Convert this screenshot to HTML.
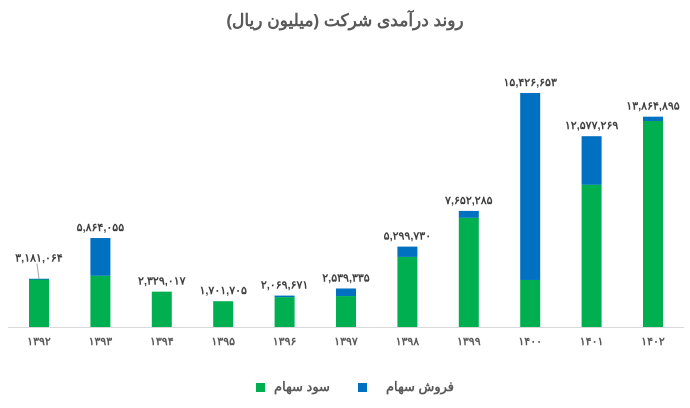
<!DOCTYPE html>
<html><head><meta charset="utf-8">
<style>
body{margin:0;background:#fff;width:690px;height:403px;overflow:hidden;font-family:"Liberation Sans","Noto Sans CJK SC",sans-serif;}
</style></head>
<body>
<svg width="690" height="403" xmlns="http://www.w3.org/2000/svg">
<text x="345" y="26" text-anchor="middle" font-size="17" font-weight="bold" fill="#595959" direction="rtl">روند درآمدی شرکت (میلیون ریال)</text>
<line x1="8" y1="327.5" x2="684" y2="327.5" stroke="#d9d9d9"/>
<g id="bars"></g>
<g>
<rect x="358" y="383" width="9" height="9" fill="#0070c0"/>
<text x="420" y="391" text-anchor="middle" font-size="13" font-weight="bold" fill="#595959">فروش سهام</text>
<rect x="256" y="383" width="9" height="9" fill="#00b050"/>
<text x="302" y="391" text-anchor="middle" font-size="13" font-weight="bold" fill="#595959">سود سهام</text>
</g>
</svg>
<script>
const categories=["۱۳۹۲","۱۳۹۳","۱۳۹۴","۱۳۹۵","۱۳۹۶","۱۳۹۷","۱۳۹۸","۱۳۹۹","۱۴۰۰","۱۴۰۱","۱۴۰۲"];
const dividend=[3.13,3.38,2.33,1.70,1.97,2.04,4.62,7.20,3.10,9.38,13.58];
const totals=[3.181064,5.864055,2.329017,1.701705,2.069671,2.539335,5.299730,7.652285,15.426653,12.577269,13.864895];
const totalLabels=["۳,۱۸۱,۰۶۴","۵,۸۶۴,۰۵۵","۲,۳۲۹,۰۱۷","۱,۷۰۱,۷۰۵","۲,۰۶۹,۶۷۱","۲,۵۳۹,۳۳۵","۵,۲۹۹,۷۳۰","۷,۶۵۲,۲۸۵","۱۵,۴۲۶,۶۵۳","۱۲,۵۷۷,۲۶۹","۱۳,۸۶۴,۸۹۵"];
const NS="http://www.w3.org/2000/svg";
const base=327, pxPerM=15.17, x0=39, step=61.4, bw=20;
const yS=v=>base-v*pxPerM;
const xS=i=>x0+i*step;
const g=document.getElementById('bars');
function mk(t,a){const e=document.createElementNS(NS,t);for(const k in a)e.setAttribute(k,a[k]);g.appendChild(e);return e;}
categories.forEach((c,i)=>{
  const cx=xS(i);
  const sales=Math.max(0,totals[i]-dividend[i]);
  const r1=mk('rect',{x:cx-bw/2,y:yS(dividend[i]),width:bw,height:dividend[i]*pxPerM,fill:'#00b050'});
  
  
  const r2=mk('rect',{x:cx-bw/2,y:yS(totals[i]),width:bw,height:sales*pxPerM,fill:'#0070c0'});
  
  
  const lab=mk('text',{x:cx,y:yS(totals[i])-(i===0?17:7),'text-anchor':'middle','font-size':'11','font-weight':'bold',fill:'#404040'});
  lab.textContent=totalLabels[i];
  
  
  const t=mk('text',{x:cx,y:345,'text-anchor':'middle','font-size':'11','font-weight':'bold',fill:'#595959'});
  t.textContent=c;
  
  
});
const ld=mk('line',{x1:xS(0)-2,y1:yS(totals[0])-15,x2:xS(0),y2:yS(totals[0]),stroke:'#a6a6a6'});


</script>
</body></html>
